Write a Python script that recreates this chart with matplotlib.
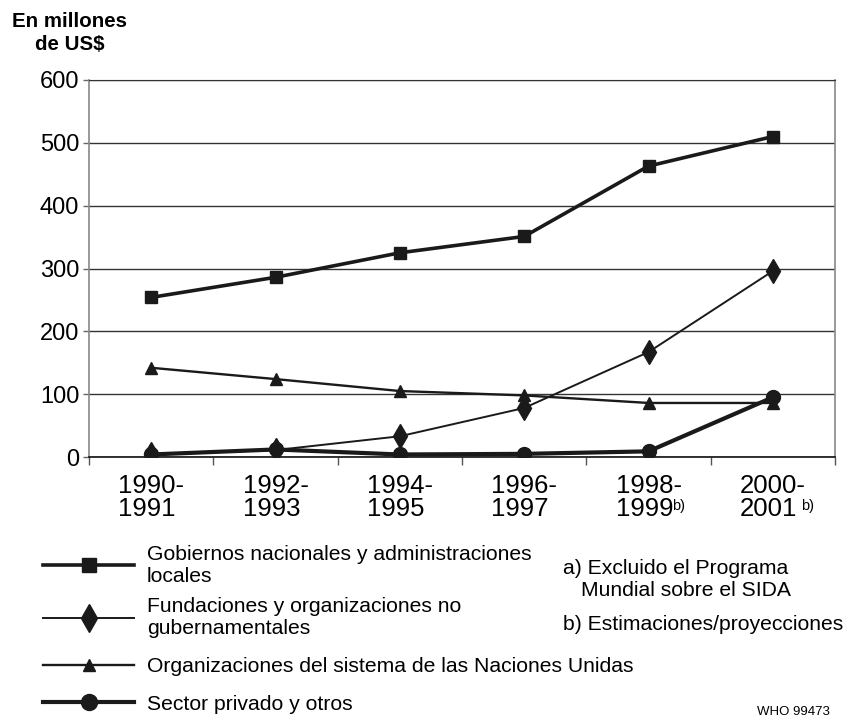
import matplotlib
matplotlib.use("Agg")
import matplotlib.pyplot as plt
import numpy as np

plt.rcParams['font.family'] = ['Liberation Sans', 'DejaVu Sans']

categories = ["1990-\n1991", "1992-\n1993", "1994-\n1995", "1996-\n1997", "1998-\n1999", "2000-\n2001"]
superscripts = ["", "", "", "", "b)", "b)"]

gobiernos = [254, 286, 325, 351, 463, 510]
fundaciones = [4, 11, 33, 78, 167, 296]
naciones_unidas = [142, 124, 105, 98, 86, 86]
sector_privado = [4, 12, 4, 5, 9, 95]

labels = ["Gobiernos nacionales y administraciones\nlocales",
          "Fundaciones y organizaciones no\ngubernamentales",
          "Organizaciones del sistema de las Naciones Unidas",
          "Sector privado y otros"]

yticks = [0, 100, 200, 300, 400, 500, 600]

W, H = 849, 718
fig = plt.figure(figsize=(W / 100, H / 100), dpi=100)
ax = fig.add_axes([89 / W, 1 - 457 / H, 746 / W, (457 - 80) / H])

x = np.arange(len(categories))
col = '#1a1a1a'
l1, = ax.plot(x, gobiernos, color=col, lw=2.6, marker='s', ms=8.5, zorder=5)
l2, = ax.plot(x, fundaciones, color=col, lw=1.4, marker='d', ms=12, zorder=4)
l3, = ax.plot(x, naciones_unidas, color=col, lw=1.7, marker='^', ms=8, zorder=3)
l4, = ax.plot(x, sector_privado, color=col, lw=3.0, marker='o', ms=10, zorder=6)

ax.set_xlim(-0.5, len(categories) - 0.5)
ax.set_ylim(0, 600)
ax.set_yticks(yticks)
ax.set_yticklabels([str(v) for v in yticks], fontsize=17)
ax.tick_params(axis='y', direction='out', length=4, width=1, color='#666666', pad=3)

ax.set_xticks(x)
ax.set_xticklabels(categories, fontsize=18.5, linespacing=0.98, multialignment='left')
ax.tick_params(axis='x', which='major', length=0, pad=12)
ax.set_xticks(np.arange(-0.5, len(categories), 1.0), minor=True)
ax.tick_params(axis='x', which='minor', direction='out', length=6, width=1, color='#555555')

ax.yaxis.grid(True, color='#333333', lw=1.0)
ax.set_axisbelow(True)
for s in ['left', 'right']:
    ax.spines[s].set_color('#888888')
    ax.spines[s].set_linewidth(1.2)
ax.spines['top'].set_color('#333333')
ax.spines['bottom'].set_color('#111111')
ax.spines['bottom'].set_linewidth(1.2)

sup_dx = {4: 17, 5: 20}
for i, sup in enumerate(superscripts):
    if sup:
        ax.annotate(sup, xy=(i, 0), xycoords=('data', 'axes fraction'),
                    xytext=(sup_dx.get(i, 17), -30.5), textcoords='offset points',
                    fontsize=10.5, ha='left', va='top')

fig.text(70 / W, 1 - 12 / H, "En millones\nde US$", fontsize=14.8, fontweight='bold',
         ha='center', va='top', linespacing=1.3)

ycent = [565, 618, 667, 704]
for ln, lab, yc in zip([l1, l2, l3, l4], labels, ycent):
    fig.legend(handles=[ln], labels=[lab], loc='center left',
               bbox_to_anchor=(43 / W, 1 - yc / H), frameon=False, fontsize=15.25,
               handlelength=4.3, handletextpad=0.6, borderpad=0, borderaxespad=0,
               markerscale=1.15)

fig.text(563 / W, 1 - 568 / H, "a) Excluido el Programa", fontsize=15.2, ha='left', va='center')
fig.text(581 / W, 1 - 591 / H, "Mundial sobre el SIDA", fontsize=15.2, ha='left', va='center')
fig.text(563 / W, 1 - 625 / H, "b) Estimaciones/proyecciones", fontsize=15.2, ha='left', va='center')
fig.text(793 / W, 1 - 712 / H, "WHO 99473", fontsize=9.5, ha='center', va='center')

fig.savefig("out.png", dpi=100)
